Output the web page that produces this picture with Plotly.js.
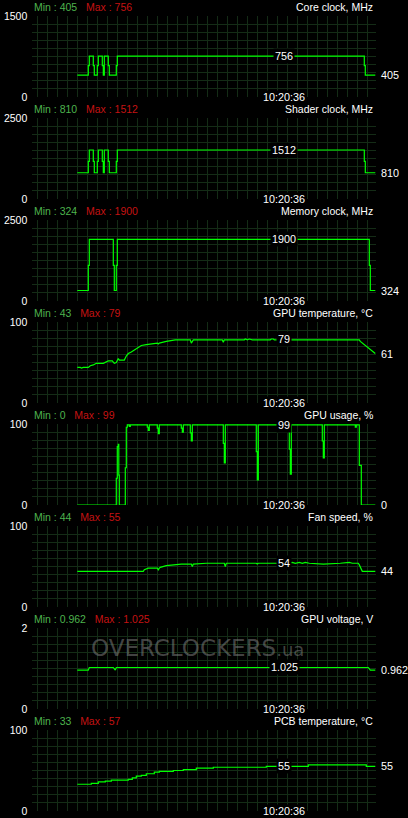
<!DOCTYPE html>
<html><head><meta charset="utf-8">
<script src="https://cdn.plot.ly/plotly-3.0.1.min.js"></script>
<style>html,body{margin:0;padding:0;background:#000;overflow:hidden}#chart{width:408px;height:818px}</style>
</head><body><div id="chart"></div>
<script>
// ---- data (time in samples, 1 grid cell = 10 samples) ----
const coreT   = [40, 51, 52, 56, 57, 60, 61, 65, 66, 67, 71, 72, 79, 80, 327, 328, 338];
const coreV   = [405, 580, 756, 580, 405, 580, 756, 580, 405, 756, 580, 405, 580, 756, 580, 405, 405];
const shaderT = [40, 51, 52, 56, 57, 60, 61, 65, 66, 67, 71, 72, 79, 80, 327, 328, 338];
const shaderV = [810, 1160, 1512, 1160, 810, 1160, 1512, 1160, 810, 1512, 1160, 810, 1160, 1512, 1160, 810, 810];
const memT    = [40, 51, 52, 76, 77, 79, 80, 332, 333, 338];
const memV    = [324, 1100, 1900, 1100, 324, 1100, 1900, 1100, 324, 324];
const tempT   = [40, 43, 44, 46, 51, 53, 56, 59, 66, 68, 71, 75, 77, 79, 81, 82, 87, 89, 91, 94, 98, 101, 104, 109, 113, 120, 121, 122, 129, 138, 153, 154, 156, 185, 186, 187, 207, 208, 210, 212, 215, 233, 234, 236, 237, 322, 323, 326, 329, 333, 336, 338];
const tempV   = [44, 44, 43, 44, 44, 46, 47, 49, 49, 50, 52, 52, 49, 50, 55, 53, 53, 58, 61, 63, 66, 68, 71, 72, 73, 74, 73, 74, 76, 78, 78, 74, 78, 78, 75, 78, 78, 79, 78, 79, 78, 78, 79, 79, 78, 78, 76, 73, 71, 67, 64, 61];
const usageT  = [40, 79, 80, 81, 81.5, 82, 88, 89, 90, 92, 93, 110, 111, 112, 120, 121, 122, 144, 145, 146, 153, 154, 155, 186, 187, 188, 219, 220, 221, 252, 253, 254, 285, 286, 287, 318, 319, 322, 324, 338];
const usageV  = [0, 33, 72, 75, 37, 0, 46, 96, 99, 97, 99, 96, 92, 99, 95, 88, 99, 95, 90, 99, 89, 79, 99, 76, 52, 99, 66, 31, 99, 69, 38, 99, 79, 58, 99, 96, 99, 49, 0, 0];
const fanT    = [40, 106, 107, 109, 111, 120, 121, 122, 123, 129, 136, 144, 154, 155, 156, 169, 187, 188, 189, 219, 220, 221, 250, 255, 258, 262, 265, 268, 272, 286, 303, 312, 315, 321, 322, 324, 325, 338];
const fanV    = [44, 44, 46, 47, 48, 48, 46, 48, 49, 51, 52, 53, 53, 50, 53, 54, 54, 50, 54, 54, 53, 54, 54, 55, 54, 55, 54, 55, 54, 53, 54, 55, 54, 54, 52, 45, 44, 44];
const voltT   = [40, 51, 52, 76, 78, 79, 331, 333, 338];
const voltV   = [0.962, 0.962, 1.025, 1.025, 0.962, 1.025, 1.025, 0.962, 0.962];
const pcbT    = [40, 54, 61, 68, 74, 91, 95, 99, 104, 109, 117, 122, 136, 146, 159, 176, 226, 229, 271, 329, 338];
const pcbV    = [33, 34, 36, 37, 38, 39, 41, 43, 44, 46, 48, 49, 50, 51, 53, 54, 54, 55, 57, 55, 55];

const titles   = ["Core clock, MHz", "Shader clock, MHz", "Memory clock, MHz", "GPU temperature, \u00b0C", "GPU usage, %", "Fan speed, %", "GPU voltage, V", "PCB temperature, \u00b0C"];
const minText  = ["405", "810", "324", "43", "0", "44", "0.962", "33"];
const maxText  = ["756", "1512", "1900", "79", "99", "55", "1.025", "57"];
const curText  = ["756", "1512", "1900", "79", "99", "54", "1.025", "55"];
const lastText = ["405", "810", "324", "61", "0", "44", "0.962", "55"];
const axisMax  = [1500, 2500, 2500, 100, 100, 100, 2, 100];
const cursorT  = 247;
const cursorLabel = "10:20:36";

const series = [[coreT, coreV, 'hv'], [shaderT, shaderV, 'hv'], [memT, memV, 'hv'], [tempT, tempV, 'linear'],
                [usageT, usageV, 'hv'], [fanT, fanV, 'linear'], [voltT, voltV, 'linear'], [pcbT, pcbV, 'hv']];

// ---- layout ----
const W = 408, H = 818;
const FONT = "Liberation Sans, Arial, sans-serif";
const GREEN = '#00ff00', GRID = '#142c16', MINC = '#4db34d', MAXC = '#c41212', WHITE = '#ffffff';
const fs = 10.5;
const xl = 32.3, xr = 376;
const traces = [], annotations = [];
const layout = {
  width: W, height: H, margin: {l: 0, r: 0, t: 0, b: 0},
  paper_bgcolor: '#000', plot_bgcolor: '#000', showlegend: false,
  font: {family: FONT, size: fs, color: WHITE}
};
for (let i = 0; i < 8; i++) {
  const top = 16 + 102 * i, bot = top + 81;
  const sx = i === 0 ? '' : String(i + 1);
  const [T, V, shape] = series[i];
  const mx = axisMax[i];
  traces.push({x: T, y: V, xaxis: 'x' + sx, yaxis: 'y' + sx, type: 'scatter', mode: 'lines',
    line: {color: GREEN, width: 1.2, shape: shape}, hoverinfo: 'skip'});
  layout['xaxis' + sx] = {domain: [xl / W, xr / W], range: [-5, 338.7], anchor: 'y' + sx,
    tick0: 0, dtick: 10, showticklabels: false, ticks: '', showgrid: true, gridcolor: GRID, gridwidth: 1,
    zeroline: false, showline: false, fixedrange: true};
  const tv = [], tt = [];
  for (let k = 0; k <= 10; k++) { tv.push(mx * k / 10); tt.push(k === 0 ? '0' : (k === 10 ? String(mx) : '')); }
  layout['yaxis' + sx] = {domain: [1 - bot / H, 1 - top / H], range: [0, mx], anchor: 'x' + sx,
    tickmode: 'array', tickvals: tv, ticktext: tt, ticks: '', ticklabelstandoff: 4,
    tickfont: {family: FONT, size: fs, color: WHITE}, showgrid: true, gridcolor: GRID, gridwidth: 1,
    zeroline: false, showline: false, fixedrange: true};
  const hy = 1 - (top - 9) / H;
  annotations.push({xref: 'paper', yref: 'paper', x: 31.5 / W, y: hy, xanchor: 'left', yanchor: 'middle', showarrow: false,
    text: '<span style="color:' + MINC + '">Min : ' + minText[i] + '</span>\u00a0\u00a0\u00a0<span style="color:' + MAXC + '">Max : ' + maxText[i] + '</span>',
    font: {family: FONT, size: fs}});
  annotations.push({xref: 'paper', yref: 'paper', x: 375 / W, y: hy, xanchor: 'right', yanchor: 'middle', showarrow: false,
    text: titles[i], font: {family: FONT, size: fs, color: WHITE}});
  annotations.push({xref: 'x' + sx, yref: 'y' + sx, x: cursorT, y: 0, xanchor: 'center', yanchor: 'middle', showarrow: false,
    text: cursorLabel, bgcolor: '#000', borderpad: 0, font: {family: FONT, size: fs + 0.3, color: WHITE}});
  annotations.push({xref: 'x' + sx, yref: 'y' + sx, x: cursorT, y: Number(curText[i]), xanchor: 'center', yanchor: 'middle', showarrow: false,
    text: curText[i], bgcolor: '#000', borderpad: 1, font: {family: FONT, size: fs + 0.3, color: WHITE}});
  annotations.push({xref: 'paper', yref: 'y' + sx, x: 378.5 / W, y: V[V.length - 1], xanchor: 'left', yanchor: 'middle', showarrow: false,
    text: lastText[i], font: {family: FONT, size: fs + 0.3, color: WHITE}});
}
annotations.push({xref: 'paper', yref: 'paper', x: 197 / W, y: 1 - 648 / H, xanchor: 'center', yanchor: 'middle', showarrow: false,
  text: 'OVERCLOCKERS<span style="font-size:18px">.ua</span>', font: {family: 'DejaVu Sans, sans-serif', size: 23, color: 'rgba(125,125,125,0.55)'}});
layout.annotations = annotations;
Plotly.newPlot('chart', traces, layout, {staticPlot: true, displayModeBar: false});
</script>
</body></html>
